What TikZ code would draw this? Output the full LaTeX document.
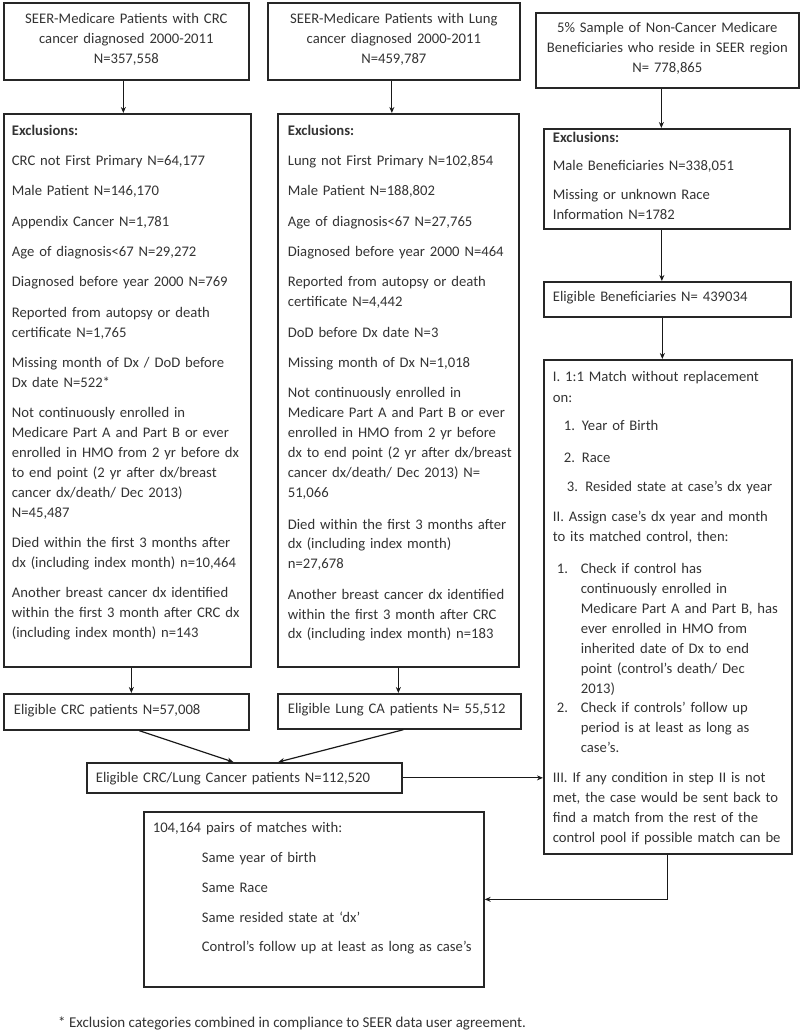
\documentclass[tikz,border=0pt]{standalone}
\usepackage{fontspec}
\setmainfont{Carlito}
\usetikzlibrary{arrows.meta, calc}

\begin{document}
\begin{tikzpicture}[
    x=1pt, y=-1pt,
    >={Stealth[length=6pt, width=5pt]},
    font=\fontsize{14.67}{19.9}\selectfont,
    box/.style      ={draw=black!85, line width=1.7pt, anchor=north west,
                      inner ysep=0pt, inner xsep=9pt, text=black!80},
    titlebox/.style ={box, align=center},
    listbox/.style  ={box, align=left,
                      execute at begin node={\rightskip=0pt plus 1fil minus 20pt}},
    flow/.style     ={->, line width=1.2pt, black!90},
    note/.style     ={anchor=base west, inner sep=0pt, text=black!80,
                      font=\fontsize{15}{18}\selectfont}
]
\useasboundingbox (0,0) rectangle (800,1031);

% =================== TOP ROW: source populations ===================
\node[titlebox, text width=227pt, text height=21pt, text depth=56pt] (crc) at (3,2)
    {SEER-Medicare Patients with CRC\\cancer diagnosed 2000-2011\\N=357,558};
\node[titlebox, text width=234pt, text height=20.5pt, text depth=56.5pt] (lung) at (267,2)
    {SEER-Medicare Patients with Lung\\cancer diagnosed 2000-2011\\N=459,787};
\node[titlebox, text width=245pt, text height=19.5pt, text depth=55.5pt] (ctrl) at (535,12)
    {5\% Sample of Non-Cancer Medicare\\Beneficiaries who reside in SEER region\\N= 778,865};

% =================== EXCLUSIONS ===================
\node[listbox, inner xsep=8pt, text width=231pt, text height=21.5pt, text depth=531.5pt] (crcex) at (3,113)
    {\textbf{Exclusions:}\\[10.4pt]
     CRC not First Primary N=64,177\\[10.4pt]
     Male Patient N=146,170\\[10.4pt]
     Appendix Cancer N=1,781\\[10.4pt]
     Age of diagnosis<67 N=29,272\\[10.4pt]
     Diagnosed before year 2000 N=769\\[10.4pt]
     Reported from autopsy or death\\certificate N=1,765\\[10.4pt]
     Missing month of Dx / DoD before\\Dx date N=522*\\[10.4pt]
     Not continuously enrolled in\\Medicare Part A and Part B or ever\\enrolled in HMO from 2 yr before dx\\to end point (2 yr after dx/breast\\cancer dx/death/ Dec 2013)\\N=45,487\\[10.4pt]
     Died within the first 3 months after\\dx (including index month) n=10,464\\[10.4pt]
     Another breast cancer dx identified\\within the first 3 month after CRC dx\\(including index month) n=143};

\node[listbox, inner xsep=10pt, text width=221pt, text height=21.5pt, text depth=531.5pt] (lungex) at (277,113)
    {\textbf{Exclusions:}\\[10.4pt]
     Lung not First Primary N=102,854\\[10.4pt]
     Male Patient N=188,802\\[10.4pt]
     Age of diagnosis<67 N=27,765\\[10.4pt]
     Diagnosed before year 2000 N=464\\[10.4pt]
     Reported from autopsy or death\\certificate N=4,442\\[10.4pt]
     DoD before Dx date N=3\\[10.4pt]
     Missing month of Dx N=1,018\\[10.4pt]
     Not continuously enrolled in\\Medicare Part A and Part B or ever\\enrolled in HMO from 2 yr before\\dx to end point (2 yr after dx/breast\\cancer dx/death/ Dec 2013) N=\\51,066\\[12pt]
     Died within the first 3 months after\\dx (including index month)\\n=27,678\\[10.4pt]
     Another breast cancer dx identified\\within the first 3 month after CRC\\dx (including index month) n=183};

\node[listbox, text width=228pt, text height=13.5pt, text depth=86.8pt] (ctrlex) at (543,128)
    {\textbf{Exclusions:}\\[8pt]
     Male Beneficiaries N=338,051\\[9pt]
     Missing or unknown Race\\Information N=1782};

% =================== ELIGIBLE ===================
\node[listbox, inner xsep=10pt, text width=225pt, text height=20.5pt, text depth=15.5pt] (eligcrc) at (3,693)
    {Eligible CRC patients N=57,008};
\node[listbox, inner xsep=10pt, text width=223pt, text height=19.5pt, text depth=15.5pt] (eliglung) at (277,693)
    {Eligible Lung CA patients N= 55,512};
\node[listbox, text width=229pt, text height=19.5pt, text depth=15.5pt] (eligben) at (543,281)
    {Eligible Beneficiaries N= 439034};

% =================== MATCHING ===================
\node[listbox, text width=230pt, text height=21.5pt, text depth=472.5pt] (match) at (543,359)
    {I. 1:1 Match without replacement\\[1pt]
     on:\\[8pt]
     \hspace*{11pt}\makebox[18pt][l]{1.}Year of Birth\\[12pt]
     \hspace*{11pt}\makebox[18pt][l]{2.}Race\\[10pt]
     \hspace*{14pt}3. Resided state at case’s dx year\\[10pt]
     II. Assign case’s dx year and month\\
     to its matched control, then:\\[12pt]
     \hspace*{4pt}\makebox[24pt][l]{1.}Check if control has\\
     \hspace*{28pt}continuously enrolled in\\
     \hspace*{28pt}Medicare Part A and Part B, has\\
     \hspace*{28pt}ever enrolled in HMO from\\
     \hspace*{28pt}inherited date of Dx to end\\
     \hspace*{28pt}point (control’s death/ Dec\\
     \hspace*{28pt}2013)\\
     \hspace*{4pt}\makebox[24pt][l]{2.}Check if controls’ follow up\\
     \hspace*{28pt}period is at least as long as\\
     \hspace*{28pt}case’s.\\[10pt]
     III. If any condition in step II is not\\
     met, the case would be sent back to\\
     find a match from the rest of the\\
     control pool if possible match can be};

\node[listbox, text width=297pt, text height=19.5pt, text depth=10.5pt] (pool) at (86,762)
    {Eligible CRC/Lung Cancer patients N=112,520};

\node[listbox, text width=322pt, text height=20.5pt, text depth=154.5pt] (pairs) at (143,811)
    {104,164 pairs of matches with:\\[10pt]
     \hspace*{49pt}Same year of birth\\[10pt]
     \hspace*{49pt}Same Race\\[10pt]
     \hspace*{49pt}Same resided state at ‘dx’\\[10pt]
     \hspace*{49pt}Control’s follow up at least as long as case’s};

\node[note] (foot) at (58,1027)
    {* Exclusion categories combined in compliance to SEER data user agreement.};

% --- Arrows ---
\draw[flow] ([xshift=-3pt]crc.south) -- ([xshift=-3pt]crc.south |- crcex.north);
\draw[flow] ([xshift=-2pt]lung.south) -- ([xshift=-2pt]lung.south |- lungex.north);
\draw[flow] ([xshift=-6pt]ctrl.south) -- ([xshift=-6pt]ctrl.south |- ctrlex.north);
\draw[flow] ([xshift=-5pt]ctrlex.south) -- ([xshift=-5pt]ctrlex.south |- eligben.north);
\draw[flow] ([xshift=-5pt]eligben.south) -- ([xshift=-5pt]eligben.south |- match.north);
\draw[flow] ([xshift=4pt]crcex.south) -- ([xshift=4pt]crcex.south |- eligcrc.north);
\draw[flow] (lungex.south) -- (lungex.south |- eliglung.north);

% eligible groups -> pooled cases
\draw[flow] ($(eligcrc.south)+(13,0)$) -- ($(pool.north)+(-11,0)$);
\draw[flow] ($(eliglung.south)+(4,0)$) -- ($(pool.north)+(34,0)$);

% pooled cases -> matching -> matched pairs
\draw[flow] (pool.east) -- (pool.east -| match.west);
\draw[flow] (match.south) |- (pairs.east);

\end{tikzpicture}
\end{document}
